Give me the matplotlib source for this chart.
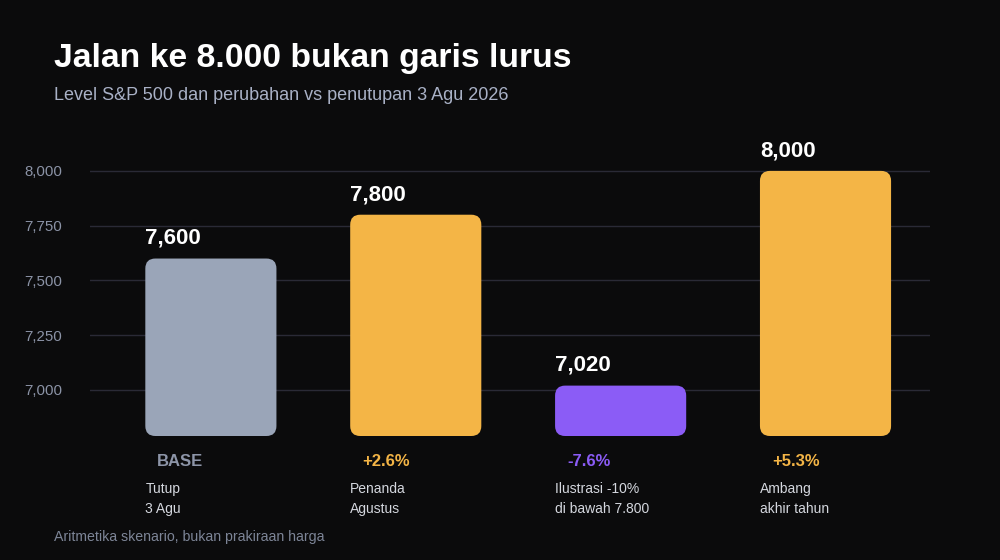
import matplotlib
matplotlib.use("Agg")
import matplotlib.pyplot as plt
from matplotlib.patches import FancyBboxPatch
import matplotlib.transforms as mtransforms

plt.rcParams['font.family'] = ['Liberation Sans', 'DejaVu Sans']

# ---- data ----
categories = ["Tutup\n3 Agu", "Penanda\nAgustus", "Ilustrasi -10%\ndi bawah 7.800", "Ambang\nakhir tahun"]
values = [7600, 7800, 7020, 8000]
value_labels = ["7,600", "7,800", "7,020", "8,000"]
change_labels = ["BASE", "+2.6%", "-7.6%", "+5.3%"]
yticks = [7000, 7250, 7500, 7750, 8000]
ytick_labels = ["7,000", "7,250", "7,500", "7,750", "8,000"]

BG = "#0b0b0c"
GRAY = "#9aa5b8"
ORANGE = "#f4b546"
PURPLE = "#8b5cf6"
bar_colors = [GRAY, ORANGE, PURPLE, ORANGE]
change_colors = ["#8d95a8", ORANGE, PURPLE, ORANGE]

W, H = 1000, 560
fig = plt.figure(figsize=(10, 5.6), dpi=100, facecolor=BG)
ax = fig.add_axes([90 / W, 1 - 436 / H, 840 / W, (436 - 140) / H])
ax.set_facecolor(BG)

ymin, ymax = 6790, 8141
xmin, xmax = -0.59, 3.51
ax.set_ylim(ymin, ymax)
ax.set_xlim(xmin, xmax)

x = list(range(len(values)))
bw = 0.64
bars = ax.bar(x, [v - ymin for v in values], bottom=ymin, width=bw, color=bar_colors)

# replace with rounded bars
px_per_x = 840 / (xmax - xmin)
px_per_y = 296 / (ymax - ymin)
r_px = 10
for b, c in zip(bars, bar_colors):
    b.set_visible(False)
    fb = FancyBboxPatch((b.get_x(), b.get_y()), b.get_width(), b.get_height(),
                        boxstyle=f"round,pad=0,rounding_size={r_px / px_per_x}",
                        mutation_aspect=px_per_x / px_per_y,
                        facecolor=c, edgecolor="none", zorder=3)
    ax.add_patch(fb)

ax.set_yticks(yticks)
ax.set_yticklabels(ytick_labels, color="#8b93a6", fontsize=10.8)
ax.set_xticks([])
ax.tick_params(axis='y', length=0, pad=20)
ax.grid(axis='y', color="#2a2a36", linewidth=1)
ax.set_axisbelow(True)
for s in ax.spines.values():
    s.set_visible(False)

# value labels
for xi, v, lab in zip(x, values, value_labels):
    ax.annotate(lab, (xi - bw / 2, v), xytext=(0, 14.5), textcoords="offset points",
                ha="left", va="center", color="white", fontsize=16, fontweight="bold")

trans = mtransforms.blended_transform_factory(ax.transData, fig.transFigure)
for xi, ch, cc, cat in zip(x, change_labels, change_colors, categories):
    left = xi - bw / 2
    ax.text(left + 12 / px_per_x, 1 - 461 / H, ch, transform=trans, ha="left", va="center",
            color=cc, fontsize=12, fontweight="bold")
    lines = cat.split("\n")
    for k, ln in enumerate(lines):
        ax.text(left, 1 - (489 + 20 * k) / H, ln, transform=trans, ha="left", va="center",
                color="#d4d7de", fontsize=10)

fig.text(54 / W, 1 - 58 / H, "Jalan ke 8.000 bukan garis lurus", color="white",
         fontsize=24.3, fontweight="bold", ha="left", va="center")
fig.text(54 / W, 1 - 95 / H, "Level S&P 500 dan perubahan vs penutupan 3 Agu 2026",
         color="#a9b1c6", fontsize=13, ha="left", va="center")
fig.text(54 / W, 1 - 537 / H, "Aritmetika skenario, bukan prakiraan harga",
         color="#7d8597", fontsize=10.2, ha="left", va="center")

fig.savefig("out.png", dpi=100, facecolor=BG)
